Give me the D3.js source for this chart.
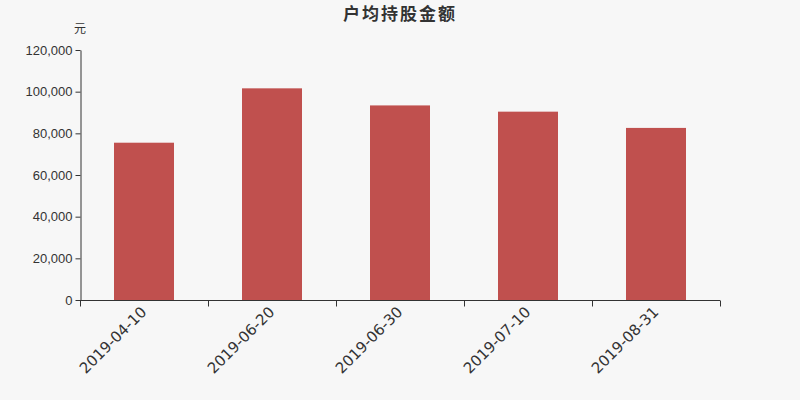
<!DOCTYPE html>
<html lang="zh">
<head>
  <meta charset="UTF-8" />
  <title>户均持股金额</title>
  <script src="https://d3js.org/d3.v7.min.js"></script>
  <style>
    body { margin: 0; background: #f7f7f7; }
    svg { display: block; font-family: "DejaVu Sans", "Noto Sans CJK SC", sans-serif; }
  </style>
</head>
<body>
  <svg width="800" height="400"></svg>
  <script>
    // chart data
    const dates = ["2019-04-10", "2019-06-20", "2019-06-30", "2019-07-10", "2019-08-31"];
    const amounts = [75500, 101600, 93400, 90400, 82600];
    const yTicks = [0, 20000, 40000, 60000, 80000, 100000, 120000];

    const margin = { top: 50, right: 80, bottom: 100, left: 80 },
          width = 800 - margin.left - margin.right,
          height = 400 - margin.top - margin.bottom;

    const svg = d3.select("svg");
    svg.append("rect").attr("width", 800).attr("height", 400).attr("fill", "#f7f7f7");

    const g = svg.append("g")
      .attr("transform", `translate(${margin.left},${margin.top})`);

    const x = d3.scaleBand().domain(dates).range([0, width]).padding(0);
    const y = d3.scaleLinear().domain([0, 120000]).range([height, 0]);
    const barW = 60;

    // bars
    g.selectAll(".bar")
      .data(dates)
      .enter().append("rect")
      .attr("class", "bar")
      .attr("x", (d) => x(d) + (x.bandwidth() - barW) / 2)
      .attr("y", (d, i) => y(amounts[i]))
      .attr("width", barW)
      .attr("height", (d, i) => height - y(amounts[i]))
      .attr("fill", "#c0504e");

    // y axis
    const yAxis = g.append("g")
      .attr("transform", "translate(0.5,0)")
      .call(d3.axisLeft(y).tickValues(yTicks).tickFormat(d3.format(",")).tickSize(5).tickSizeOuter(0));
    yAxis.select(".domain").attr("stroke", "#333");
    yAxis.selectAll(".tick line").attr("stroke", "#333");
    yAxis.selectAll(".tick text").attr("fill", "#333").attr("font-size", 13).attr("x", -8);

    // x axis: ticks on band edges, labels at band centers
    const xAxis = g.append("g").attr("transform", `translate(0,${height + 0.5})`);
    xAxis.append("line").attr("x1", 0).attr("x2", width).attr("stroke", "#333");
    const edges = dates.map((d) => x(d)).concat([width]);
    xAxis.selectAll(".edge")
      .data(edges)
      .enter().append("line")
      .attr("x1", (d) => Math.round(d) + 0.5)
      .attr("x2", (d) => Math.round(d) + 0.5)
      .attr("y1", 0).attr("y2", 6)
      .attr("stroke", "#333");
    xAxis.selectAll(".lbl")
      .data(dates)
      .enter().append("text")
      .attr("transform", (d) => `translate(${x(d) + x.bandwidth() / 2 - 4},${5}) rotate(-45)`)
      .attr("text-anchor", "end")
      .attr("dy", "0.7em")
      .attr("font-size", 15)
      .attr("fill", "#333")
      .text((d) => d);

    // title and unit
    svg.append("text")
      .attr("x", 400).attr("y", 20)
      .attr("text-anchor", "middle")
      .attr("font-size", 17)
      .attr("font-weight", "bold")
      .attr("letter-spacing", 2)
      .attr("fill", "#333")
      .text("户均持股金额");
    svg.append("text")
      .attr("x", 74).attr("y", 33)
      .attr("text-anchor", "start")
      .attr("font-size", 12)
      .attr("fill", "#333")
      .text("元");
  </script>
</body>
</html>
